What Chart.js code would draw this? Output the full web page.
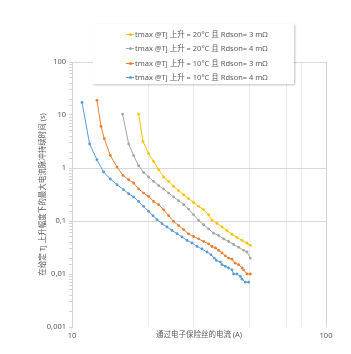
<!DOCTYPE html>
<html>
<head>
<meta charset="utf-8">
<script src="https://cdn.jsdelivr.net/npm/chart.js@4.4.0/dist/chart.umd.min.js"></script>
<style>
  body { margin: 0; background: #fff; }
  #wrap { position: relative; width: 351px; height: 354px; }
  #legend {
    position: absolute; left: 93px; top: 24px; width: 201px; height: 60px;
    background: #fff; box-shadow: 1px 1px 2px rgba(0,0,0,0.25);
    font-family: 'Noto Sans', 'Noto Sans CJK SC', sans-serif; font-size: 7.5px; color: #595959;
  }
  .item { position: absolute; left: 33px; height: 10px; line-height: 10px; white-space: nowrap; }
  .mark { display: inline-block; position: relative; width: 8px; height: 10px; vertical-align: top; margin-right: 1px; }
  .mark i { position: absolute; left: 0; top: 5px; width: 8px; height: 1px; }
  .mark b { position: absolute; left: 3px; top: 4px; width: 3px; height: 3px; border-radius: 50%; }
</style>
</head>
<body>
<div id="wrap">
  <canvas id="chart" width="351" height="354"></canvas>
  <div id="legend"></div>
</div>
<script>
// legend text, in the order of the reference
const seriesLabels = [
  'tmax @Tj 上升 = 20°C 且 Rdson= 3 mΩ',
  'tmax @Tj 上升 = 20°C 且 Rdson= 4 mΩ',
  'tmax @Tj 上升 = 10°C 且 Rdson= 3 mΩ',
  'tmax @Tj 上升 = 10°C 且 Rdson= 4 mΩ'
];
const seriesColors = ['#FFC000', '#A5A5A5', '#ED7D31', '#5B9BD5'];

// 20°C, 3 mΩ
const amps20c3 = [18.29, 19.03, 20.02, 20.96, 21.93, 22.95, 24.01, 25.12, 26.29, 27.51, 28.78, 30.12, 31.51, 32.98, 34.51, 35.58, 37.24, 38.96, 40.76, 42.65, 44.63, 46.71, 48.87, 50.35];
const secs20c3 = [10.4, 3.18, 1.86, 1.33, 0.929, 0.676, 0.559, 0.45, 0.373, 0.313, 0.264, 0.224, 0.189, 0.163, 0.131, 0.103, 0.090, 0.077, 0.066, 0.056, 0.049, 0.043, 0.038, 0.035];

// 20°C, 4 mΩ
const amps20c4 = [15.82, 16.71, 17.48, 18.29, 19.14, 20.02, 20.96, 21.93, 22.95, 24.01, 25.12, 26.29, 27.51, 28.78, 30.12, 31.51, 32.98, 34.51, 36.10, 37.79, 39.53, 41.36, 43.28, 45.29, 47.38, 48.87, 50.35];
const secs20c4 = [10.4, 2.84, 1.71, 1.105, 0.826, 0.676, 0.559, 0.464, 0.402, 0.337, 0.284, 0.242, 0.203, 0.168, 0.131, 0.103, 0.085, 0.071, 0.059, 0.053, 0.046, 0.041, 0.036, 0.032, 0.028, 0.026, 0.020];

// 10°C, 3 mΩ
const amps10c3 = [12.54, 13.01, 13.40, 14.15, 15.04, 15.88, 16.71, 17.48, 18.29, 19.14, 20.02, 20.96, 21.93, 22.95, 24.01, 25.12, 26.29, 27.51, 28.78, 30.12, 31.51, 32.98, 34.51, 35.58, 36.7, 37.79, 38.96, 40.14, 41.36, 42.65, 43.9, 45.29, 46.71, 47.38, 48.87, 50.35];
const secs10c3 = [18.9, 6.1, 3.57, 1.73, 1.04, 0.725, 0.601, 0.521, 0.402, 0.337, 0.291, 0.234, 0.203, 0.163, 0.126, 0.098, 0.082, 0.069, 0.057, 0.051, 0.046, 0.041, 0.037, 0.033, 0.031, 0.028, 0.025, 0.022, 0.020, 0.019, 0.016, 0.015, 0.013, 0.012, 0.010, 0.010];

// 10°C, 4 mΩ
const amps10c4 = [10.95, 11.73, 12.54, 13.32, 14.15, 15.04, 15.97, 16.71, 17.48, 18.29, 19.14, 20.02, 20.84, 21.61, 22.62, 23.66, 24.76, 25.91, 27.11, 28.37, 29.68, 31.06, 32.5, 34.01, 35.26, 36.33, 37.0, 38.37, 38.96, 40.14, 41.36, 42.65, 43.28, 44.63, 45.99, 46.71, 48.12, 49.59];
const secs10c4 = [17.3, 2.84, 1.43, 0.84, 0.62, 0.484, 0.39, 0.327, 0.284, 0.234, 0.189, 0.152, 0.126, 0.106, 0.089, 0.077, 0.0665, 0.0576, 0.0499, 0.043, 0.0385, 0.0332, 0.0296, 0.026, 0.023, 0.020, 0.018, 0.017, 0.015, 0.014, 0.013, 0.012, 0.010, 0.010, 0.009, 0.008, 0.007, 0.007];

const yTickLabels = { 100: '100', 10: '10', 1: '1', 0.1: '0,1', 0.01: '0,01', 0.001: '0,001' };
const xTickLabels = { 10: '10', 100: '100' };

const allAmps = [amps20c3, amps20c4, amps10c3, amps10c4];
const allSecs = [secs20c3, secs20c4, secs10c3, secs10c4];

const FONT = "'Noto Sans', 'Noto Sans CJK SC', sans-serif";
const isDecade = v => Math.abs(Math.log10(v) - Math.round(Math.log10(v))) < 1e-6;

const datasets = seriesLabels.map((label, i) => ({
  label,
  data: allAmps[i].map((a, k) => ({ x: a, y: allSecs[i][k] })),
  showLine: true,
  borderColor: seriesColors[i],
  backgroundColor: seriesColors[i],
  borderWidth: 1,
  pointRadius: 1.4,
  pointBorderWidth: 0,
  tension: 0
}));

// legend (drawn over the plot like the reference)
const legendEl = document.getElementById('legend');
seriesLabels.forEach((label, i) => {
  const row = document.createElement('div');
  row.className = 'item';
  row.style.top = (5 + i * 14.4) + 'px';
  row.innerHTML = '<span class="mark"><i style="background:' + seriesColors[i] + '"></i><b style="background:' + seriesColors[i] + '"></b></span>';
  row.appendChild(document.createTextNode(label));
  legendEl.appendChild(row);
});

new Chart(document.getElementById('chart'), {
  type: 'scatter',
  data: { datasets },
  options: {
    responsive: false,
    animation: false,
    layout: { padding: { left: 0, right: 25, top: 62, bottom: 0 } },
    plugins: { legend: { display: false }, tooltip: { enabled: false } },
    scales: {
      x: {
        type: 'logarithmic',
        min: 10,
        max: 100,
        afterFit: s => { s.height = 27; },
        border: { display: false },
        grid: {
          drawTicks: false,
          color: c => {
            const v = c.tick.value;
            if (Math.abs(v - 100) < 1e-6) return '#d4d4d4';
            if ([20, 30, 50, 70, 80].some(m => Math.abs(v - m) < 1e-6)) return '#ececec';
            return 'rgba(0,0,0,0)';
          }
        },
        ticks: {
          autoSkip: false,
          maxRotation: 0,
          padding: 4,
          color: '#595959',
          font: { family: FONT, size: 7.5 },
          callback: v => xTickLabels[Math.round(v)] && isDecade(v) ? xTickLabels[Math.round(v)] : ''
        },
        title: {
          display: true,
          text: '通过电子保险丝的电流 (A)',
          color: '#595959',
          font: { family: FONT, size: 7.5 },
          padding: { top: 0, bottom: 15 }
        }
      },
      y: {
        type: 'logarithmic',
        min: 0.001,
        max: 100,
        afterFit: s => { s.width = 72; },
        border: { display: true, color: '#d4d4d4' },
        grid: {
          tickLength: 3,
          tickColor: '#d4d4d4',
          color: c => {
            const v = c.tick.value;
            return [100, 1, 0.1].some(m => Math.abs(v - m) / m < 1e-6) ? '#d9d9d9' : 'rgba(0,0,0,0)';
          }
        },
        ticks: {
          autoSkip: false,
          padding: 3,
          color: '#595959',
          font: { family: FONT, size: 7.5 },
          callback: v => {
            if (!isDecade(v)) return '';
            const key = Math.pow(10, Math.round(Math.log10(v)));
            return yTickLabels[key] || '';
          }
        },
        title: {
          display: true,
          text: '在给定 Tj 上升幅度下的最大电流脉冲持续时间 (s)',
          color: '#595959',
          font: { family: FONT, size: 7.5 },
          padding: { top: 38, bottom: 0 }
        }
      }
    }
  }
});
</script>
</body>
</html>
